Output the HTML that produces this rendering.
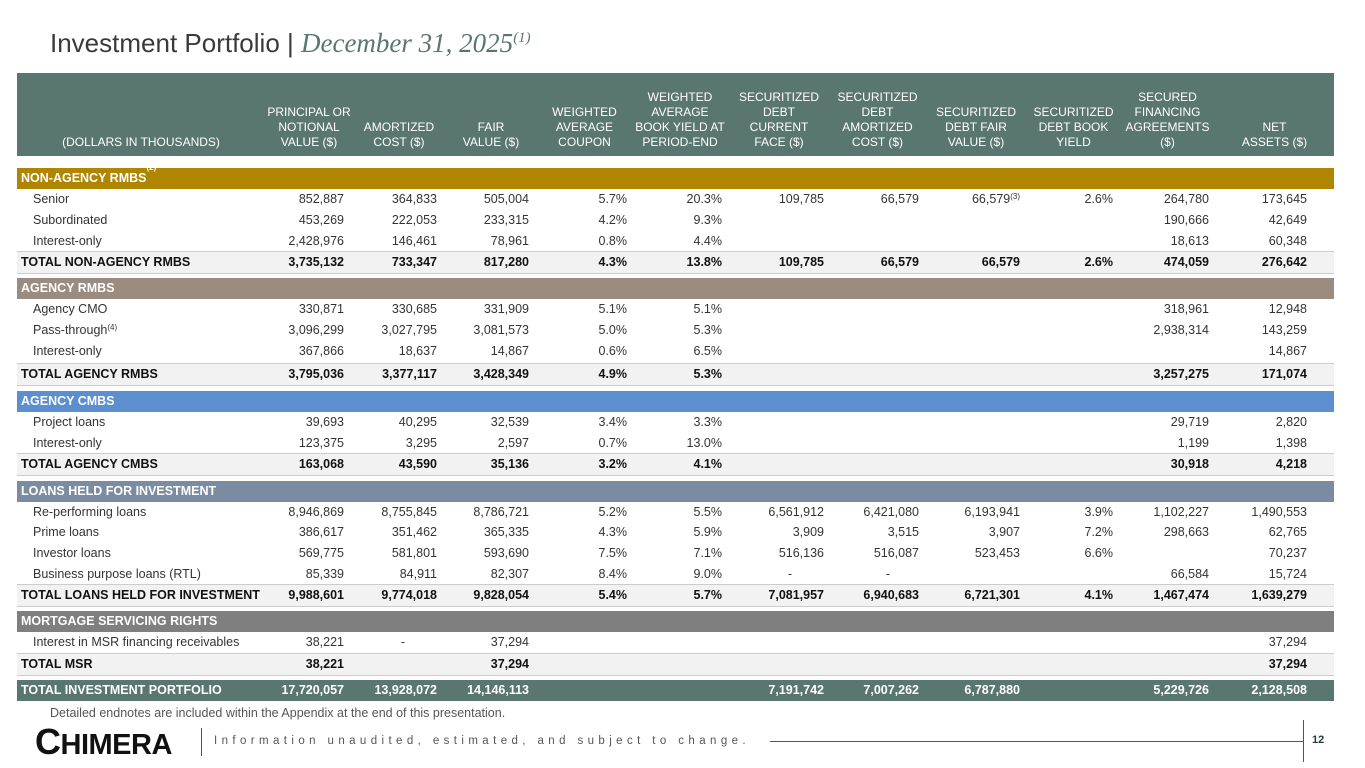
<!DOCTYPE html><html><head><meta charset="utf-8"><style>
body{margin:0;width:1365px;height:768px;background:#fff;font-family:"Liberation Sans",sans-serif;position:relative;overflow:hidden;color:#333}
.t{position:absolute;left:50px;top:28px;font-size:26px;color:#3a3a3a}
.t i{font-family:"Liberation Serif",serif;color:#5a7670;font-size:27px}
.r{position:absolute;left:17px;width:1317px;display:flex;height:21px;line-height:21px;font-size:12.5px}
.r div{box-sizing:border-box;text-align:right;white-space:nowrap}
.r div:nth-child(1){width:248px;text-align:left;padding-left:16px}
.r div:nth-child(2){width:88px;padding-right:9px}
.r div:nth-child(3){width:92px;padding-right:8px}
.r div:nth-child(4){width:92px;padding-right:8px}
.r div:nth-child(5){width:95px;padding-right:5px}
.r div:nth-child(6){width:96px;padding-right:6px}
.r div:nth-child(7){width:102px;padding-right:6px}
.r div:nth-child(8){width:95px;padding-right:6px}
.r div:nth-child(9){width:102px;padding-right:7px}
.r div:nth-child(10){width:93px;padding-right:7px}
.r div:nth-child(11){width:95px;padding-right:6px}
.r div:nth-child(12){width:119px;padding-right:27px}
.tot{background:#f2f2f2;border-top:1px solid #ccc;border-bottom:1px solid #ccc;font-weight:bold;color:#111}
.tot div:nth-child(1){padding-left:4px!important}
.bar{color:#fff;font-weight:bold;padding-left:4px;box-sizing:border-box}
.hd{position:absolute;left:17px;top:73px;width:1317px;height:83px;background:#5a7670;display:flex;color:#fff;font-size:12px;line-height:15px}
.hd div{box-sizing:border-box;text-align:center;display:flex;align-items:flex-end;justify-content:center;padding-bottom:6px}
sup{font-size:8px;line-height:0;vertical-align:4px}
</style></head><body>
<div class="t">Investment Portfolio | <i>December 31, 2025<sup style="font-size:15px;vertical-align:10px">(1)</sup></i></div>
<div class="hd">
<div style="width:248px">(DOLLARS IN THOUSANDS)</div>
<div style="width:88px">PRINCIPAL OR<br>NOTIONAL<br>VALUE ($)</div>
<div style="width:92px">AMORTIZED<br>COST ($)</div>
<div style="width:92px">FAIR<br>VALUE ($)</div>
<div style="width:95px">WEIGHTED<br>AVERAGE<br>COUPON</div>
<div style="width:96px">WEIGHTED<br>AVERAGE<br>BOOK YIELD AT<br>PERIOD-END</div>
<div style="width:102px">SECURITIZED<br>DEBT<br>CURRENT<br>FACE ($)</div>
<div style="width:95px">SECURITIZED<br>DEBT<br>AMORTIZED<br>COST ($)</div>
<div style="width:102px">SECURITIZED<br>DEBT FAIR<br>VALUE ($)</div>
<div style="width:93px">SECURITIZED<br>DEBT BOOK<br>YIELD</div>
<div style="width:95px">SECURED<br>FINANCING<br>AGREEMENTS<br>($)</div>
<div style="width:119px">NET<br>ASSETS ($)</div>
</div>

<div class="r bar" style="top:168px;background:#b08500">NON-AGENCY RMBS<sup>(2)</sup></div>
<div class="r" style="top:189px"><div>Senior</div><div>852,887</div><div>364,833</div><div>505,004</div><div>5.7%</div><div>20.3%</div><div>109,785</div><div>66,579</div><div>66,579<sup>(3)</sup></div><div>2.6%</div><div>264,780</div><div>173,645</div></div>
<div class="r" style="top:210px"><div>Subordinated</div><div>453,269</div><div>222,053</div><div>233,315</div><div>4.2%</div><div>9.3%</div><div></div><div></div><div></div><div></div><div>190,666</div><div>42,649</div></div>
<div class="r" style="top:231px"><div>Interest-only</div><div>2,428,976</div><div>146,461</div><div>78,961</div><div>0.8%</div><div>4.4%</div><div></div><div></div><div></div><div></div><div>18,613</div><div>60,348</div></div>
<div class="r tot" style="top:251px"><div>TOTAL NON-AGENCY RMBS</div><div>3,735,132</div><div>733,347</div><div>817,280</div><div>4.3%</div><div>13.8%</div><div>109,785</div><div>66,579</div><div>66,579</div><div>2.6%</div><div>474,059</div><div>276,642</div></div>

<div class="r bar" style="top:278px;background:#9a8c80">AGENCY RMBS</div>
<div class="r" style="top:299px"><div>Agency CMO</div><div>330,871</div><div>330,685</div><div>331,909</div><div>5.1%</div><div>5.1%</div><div></div><div></div><div></div><div></div><div>318,961</div><div>12,948</div></div>
<div class="r" style="top:320px"><div>Pass-through<sup>(4)</sup></div><div>3,096,299</div><div>3,027,795</div><div>3,081,573</div><div>5.0%</div><div>5.3%</div><div></div><div></div><div></div><div></div><div>2,938,314</div><div>143,259</div></div>
<div class="r" style="top:341px"><div>Interest-only</div><div>367,866</div><div>18,637</div><div>14,867</div><div>0.6%</div><div>6.5%</div><div></div><div></div><div></div><div></div><div></div><div>14,867</div></div>
<div class="r tot" style="top:363px"><div>TOTAL AGENCY RMBS</div><div>3,795,036</div><div>3,377,117</div><div>3,428,349</div><div>4.9%</div><div>5.3%</div><div></div><div></div><div></div><div></div><div>3,257,275</div><div>171,074</div></div>

<div class="r bar" style="top:391px;background:#5b8fd0">AGENCY CMBS</div>
<div class="r" style="top:412px"><div>Project loans</div><div>39,693</div><div>40,295</div><div>32,539</div><div>3.4%</div><div>3.3%</div><div></div><div></div><div></div><div></div><div>29,719</div><div>2,820</div></div>
<div class="r" style="top:433px"><div>Interest-only</div><div>123,375</div><div>3,295</div><div>2,597</div><div>0.7%</div><div>13.0%</div><div></div><div></div><div></div><div></div><div>1,199</div><div>1,398</div></div>
<div class="r tot" style="top:453px"><div>TOTAL AGENCY CMBS</div><div>163,068</div><div>43,590</div><div>35,136</div><div>3.2%</div><div>4.1%</div><div></div><div></div><div></div><div></div><div>30,918</div><div>4,218</div></div>

<div class="r bar" style="top:481px;background:#7b8ca2">LOANS HELD FOR INVESTMENT</div>
<div class="r" style="top:502px"><div>Re-performing loans</div><div>8,946,869</div><div>8,755,845</div><div>8,786,721</div><div>5.2%</div><div>5.5%</div><div>6,561,912</div><div>6,421,080</div><div>6,193,941</div><div>3.9%</div><div>1,102,227</div><div>1,490,553</div></div>
<div class="r" style="top:522px"><div>Prime loans</div><div>386,617</div><div>351,462</div><div>365,335</div><div>4.3%</div><div>5.9%</div><div>3,909</div><div>3,515</div><div>3,907</div><div>7.2%</div><div>298,663</div><div>62,765</div></div>
<div class="r" style="top:543px"><div>Investor loans</div><div>569,775</div><div>581,801</div><div>593,690</div><div>7.5%</div><div>7.1%</div><div>516,136</div><div>516,087</div><div>523,453</div><div>6.6%</div><div></div><div>70,237</div></div>
<div class="r" style="top:564px"><div>Business purpose loans (RTL)</div><div>85,339</div><div>84,911</div><div>82,307</div><div>8.4%</div><div>9.0%</div><div style="padding-right:38px!important">-</div><div style="padding-right:35px!important">-</div><div></div><div></div><div>66,584</div><div>15,724</div></div>
<div class="r tot" style="top:584px"><div>TOTAL LOANS HELD FOR INVESTMENT</div><div>9,988,601</div><div>9,774,018</div><div>9,828,054</div><div>5.4%</div><div>5.7%</div><div>7,081,957</div><div>6,940,683</div><div>6,721,301</div><div>4.1%</div><div>1,467,474</div><div>1,639,279</div></div>

<div class="r bar" style="top:611px;background:#7f7f7f">MORTGAGE SERVICING RIGHTS</div>
<div class="r" style="top:632px"><div>Interest in MSR financing receivables</div><div>38,221</div><div style="padding-right:40px!important">-</div><div>37,294</div><div></div><div></div><div></div><div></div><div></div><div></div><div></div><div>37,294</div></div>
<div class="r tot" style="top:653px"><div>TOTAL MSR</div><div>38,221</div><div></div><div>37,294</div><div></div><div></div><div></div><div></div><div></div><div></div><div></div><div>37,294</div></div>

<div class="r bar" style="top:680px;background:#5a7670;padding-left:0;font-weight:bold;color:#fff"><div style="padding-left:4px!important">TOTAL INVESTMENT PORTFOLIO</div><div>17,720,057</div><div>13,928,072</div><div>14,146,113</div><div></div><div></div><div>7,191,742</div><div>7,007,262</div><div>6,787,880</div><div></div><div>5,229,726</div><div>2,128,508</div></div>

<div style="position:absolute;left:50px;top:706px;font-size:12.5px;color:#555">Detailed endnotes are included within the Appendix at the end of this presentation.</div>
<div style="position:absolute;left:35px;top:722px;font-size:36px;font-weight:bold;color:#111;letter-spacing:-0.5px;line-height:40px">C<span style="font-size:29px">HIMERA</span></div>
<div style="position:absolute;left:201px;top:728px;width:1px;height:28px;background:#555"></div>
<div style="position:absolute;left:214px;top:735px;font-size:11.5px;letter-spacing:4.4px;color:#555">Information unaudited, estimated, and subject to change.</div>
<div style="position:absolute;left:770px;top:741px;width:533px;height:1px;background:#555"></div>
<div style="position:absolute;left:1303px;top:720px;width:1px;height:42px;background:#555"></div>
<div style="position:absolute;left:1312px;top:734px;font-size:11px;font-weight:bold;color:#1e3a3a">12</div>
</body></html>
